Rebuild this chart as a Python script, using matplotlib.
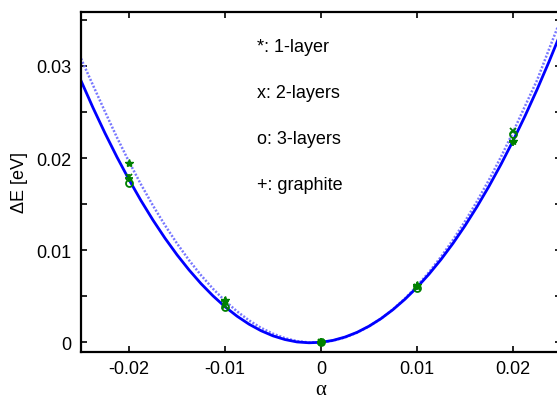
import numpy as np
import matplotlib
matplotlib.use("Agg")
import matplotlib.pyplot as plt
from matplotlib.ticker import MultipleLocator

# strain values of the calculated points
alpha = [-0.02, -0.01, 0.0, 0.01, 0.02]

# energy differences (eV)
one_layer = [0.0195, 0.0046, 0.0, 0.0062, 0.0218]
two_layers = [0.0179, 0.0039, 0.0, 0.0060, 0.0229]
three_layers = [0.0173, 0.0038, 0.0, 0.0059, 0.0226]
graphite = [0.0178, 0.0045, 0.0, 0.0061, 0.0217]

# fitted curves, sampled every 0.00125
alpha_fit = [-0.025, -0.02375, -0.0225, -0.02125, -0.02, -0.01875, -0.0175, -0.01625,
             -0.015, -0.01375, -0.0125, -0.01125, -0.01, -0.00875, -0.0075, -0.00625,
             -0.005, -0.00375, -0.0025, -0.00125, 0.0, 0.00125, 0.0025, 0.00375,
             0.005, 0.00625, 0.0075, 0.00875, 0.01, 0.01125, 0.0125, 0.01375,
             0.015, 0.01625, 0.0175, 0.01875, 0.02, 0.02125, 0.0225, 0.02375, 0.025]
fit_solid = [0.02839, 0.02546, 0.0227, 0.0201, 0.01766, 0.01538, 0.01326, 0.0113,
             0.0095, 0.00786, 0.00637, 0.00504, 0.00386, 0.00284, 0.00197, 0.00126,
             0.0007, 0.0003, 0.00004, -0.00005, 0.0, 0.00021, 0.00057, 0.00108,
             0.00175, 0.00257, 0.00355, 0.00468, 0.00596, 0.0074, 0.00899, 0.01074,
             0.01265, 0.01472, 0.01694, 0.01932, 0.02186, 0.02456, 0.02742, 0.03045, 0.03364]
fit_dotted = [0.0308, 0.0279, 0.02503, 0.02223, 0.0196, 0.01713, 0.01483, 0.0127,
              0.01073, 0.00892, 0.00728, 0.00581, 0.0045, 0.00336, 0.00238, 0.00157,
              0.00093, 0.00045, 0.00013, -0.00002, 0.0, 0.00018, 0.00053, 0.00105,
              0.00173, 0.00257, 0.00358, 0.00476, 0.0061, 0.00761, 0.00928, 0.01112,
              0.01313, 0.0153, 0.01763, 0.02013, 0.0228, 0.02563, 0.02843, 0.0318, 0.03513]

labels = ["*: 1-layer", "x: 2-layers", "o: 3-layers", "+: graphite"]

plt.rcParams['font.family'] = ['Liberation Sans', 'DejaVu Sans']

fig = plt.figure(figsize=(5.57, 4.02), dpi=100)
ax = fig.add_axes([0.1454, 0.1226, 0.8618, 0.8463])

ax.plot(alpha_fit, fit_dotted, color='#7878ff', lw=1.8, linestyle=(0, (0.8, 0.7)))
ax.plot(alpha_fit, fit_solid, color='#0000ff', lw=2.0)

green = '#008000'
ax.plot(alpha, one_layer, '*', color=green, ms=6, mew=1.0, linestyle='none')
ax.plot(alpha, two_layers, 'x', color=green, ms=5, mew=1.3, linestyle='none')
ax.plot(alpha, three_layers, 'o', color=green, ms=5, mew=1.3, mfc='none', linestyle='none')
ax.plot(alpha, graphite, '+', color=green, ms=6, mew=1.3, linestyle='none')

text_y = [0.0321, 0.0271, 0.0221, 0.0171]
for lab, ty in zip(labels, text_y):
    ax.text(-0.00665, ty, lab, fontsize=13, va='center', ha='left')

ax.set_xlim(-0.025, 0.025)
ax.set_ylim(-0.00102, 0.0359)
ax.set_xticks([-0.02, -0.01, 0, 0.01, 0.02])
ax.set_xticklabels(['-0.02', '-0.01', '0', '0.01', '0.02'])
ax.set_yticks([0, 0.01, 0.02, 0.03])
ax.set_yticklabels(['0', '0.01', '0.02', '0.03'])
ax.yaxis.set_minor_locator(MultipleLocator(0.005))

ax.tick_params(which='both', direction='in', top=True, right=True,
               labelsize=13, width=1.2, length=4)
ax.tick_params(axis='x', pad=6)
ax.tick_params(axis='y', pad=7)
for s in ax.spines.values():
    s.set_linewidth(1.6)

ax.set_xlabel('α', fontsize=15, family=['Liberation Serif', 'DejaVu Serif'], labelpad=2)
ax.set_ylabel('ΔE [eV]', fontsize=13, labelpad=6)

fig.savefig('out.png', dpi=100)
